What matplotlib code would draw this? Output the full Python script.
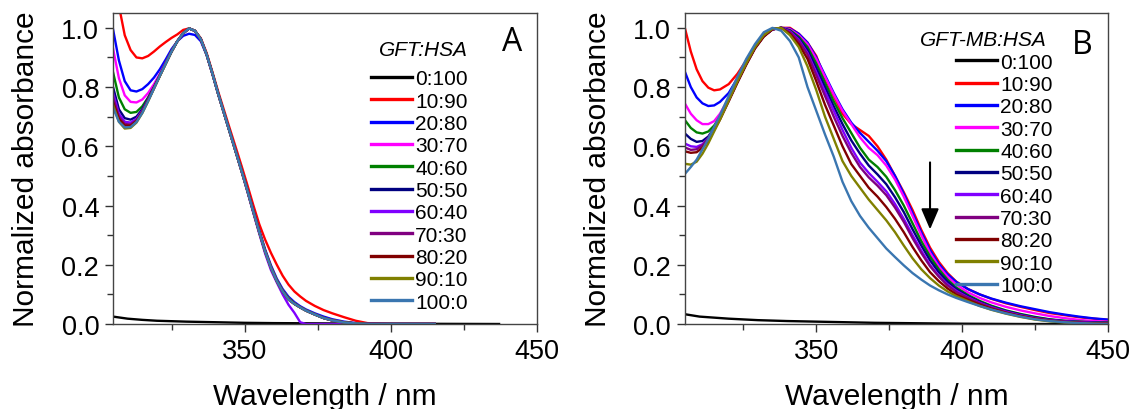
import matplotlib
matplotlib.use('Agg')
import matplotlib.pyplot as plt
from matplotlib.ticker import MultipleLocator

plt.rcParams['font.family'] = ['Liberation Sans', 'DejaVu Sans']

labels = ['0:100', '10:90', '20:80', '30:70', '40:60', '50:50',
          '60:40', '70:30', '80:20', '90:10', '100:0']
colors = ['#000000', '#ff0000', '#0000ff', '#ff00ff', '#008000', '#000080',
          '#8000ff', '#800080', '#800000', '#808000', '#3a76b0']

# ---- panel A: GFT:HSA ----
wl_a = [305, 307, 309, 311, 313, 315, 317, 319, 321, 323, 325, 327, 329,
        331, 333, 335, 337, 339, 341, 343, 345, 347, 349, 351, 353, 355, 357,
        359, 361, 363, 365, 367, 369, 371, 374, 377, 380, 384, 388, 392, 400, 415]
wl_a_black = [305, 310, 315, 320, 330, 340, 350, 360, 380, 400, 437]
a_0_100 = [0.025, 0.018, 0.014, 0.011, 0.008, 0.006, 0.004, 0.003, 0.002, 0.001, 0.0]
a_10_90 = [1.2, 1.075, 0.975, 0.925, 0.9, 0.897, 0.905, 0.92, 0.937, 0.952, 0.966, 0.978, 0.993,
           0.998, 0.99, 0.965, 0.915, 0.85, 0.783, 0.72, 0.657, 0.595, 0.532, 0.467, 0.4, 0.337, 0.285,
           0.24, 0.2, 0.163, 0.133, 0.11, 0.093, 0.078, 0.061, 0.047, 0.036, 0.023, 0.011, 0.003, 0.0, 0.0]
a_20_80 = [0.995, 0.89, 0.82, 0.789, 0.785, 0.793, 0.81, 0.832, 0.86, 0.893, 0.928, 0.955, 0.973,
           0.98, 0.976, 0.955, 0.908, 0.843, 0.775, 0.71, 0.646, 0.582, 0.518, 0.452, 0.383, 0.316, 0.252,
           0.198, 0.153, 0.118, 0.092, 0.074, 0.06, 0.049, 0.036, 0.025, 0.016, 0.008, 0.003, 0.001, 0.0, 0.0]
a_30_70 = [0.93, 0.83, 0.772, 0.75, 0.748, 0.758, 0.78, 0.81, 0.845, 0.882, 0.92, 0.955, 0.982,
           0.998, 0.99, 0.962, 0.91, 0.845, 0.777, 0.712, 0.647, 0.582, 0.517, 0.45, 0.38, 0.312, 0.248,
           0.193, 0.148, 0.113, 0.087, 0.07, 0.057, 0.046, 0.033, 0.021, 0.013, 0.006, 0.002, 0.0, 0.0, 0.0]
a_40_60 = [0.85, 0.765, 0.725, 0.713, 0.716, 0.735, 0.765, 0.8, 0.84, 0.88, 0.92, 0.955, 0.982,
           0.998, 0.99, 0.962, 0.91, 0.846, 0.777, 0.712, 0.647, 0.582, 0.517, 0.45, 0.38, 0.312, 0.248,
           0.193, 0.148, 0.113, 0.087, 0.07, 0.057, 0.046, 0.033, 0.021, 0.013, 0.006, 0.002, 0.0, 0.0, 0.0]
a_50_50 = [0.8, 0.725, 0.695, 0.69, 0.7, 0.725, 0.762, 0.8, 0.84, 0.88, 0.92, 0.955, 0.982,
           0.998, 0.99, 0.962, 0.91, 0.845, 0.775, 0.71, 0.645, 0.58, 0.515, 0.448, 0.378, 0.31, 0.245,
           0.19, 0.145, 0.11, 0.083, 0.068, 0.056, 0.045, 0.032, 0.02, 0.012, 0.005, 0.002, 0.0, 0.0, 0.0]
a_60_40 = [0.78, 0.71, 0.683, 0.68, 0.693, 0.72, 0.758, 0.798, 0.84, 0.88, 0.92, 0.955, 0.982,
           0.998, 0.99, 0.962, 0.91, 0.845, 0.775, 0.71, 0.645, 0.58, 0.513, 0.445, 0.374, 0.305, 0.238,
           0.182, 0.14, 0.1, 0.065, 0.038, 0.006, 0.0, 0.0, 0.0, 0.0, 0.0, 0.0, 0.0, 0.0, 0.0]
a_70_30 = [0.765, 0.7, 0.675, 0.674, 0.688, 0.717, 0.756, 0.797, 0.839, 0.88, 0.92, 0.955, 0.982,
           0.998, 0.99, 0.962, 0.91, 0.845, 0.775, 0.71, 0.645, 0.58, 0.515, 0.448, 0.378, 0.31, 0.245,
           0.19, 0.145, 0.11, 0.083, 0.068, 0.056, 0.045, 0.032, 0.02, 0.012, 0.005, 0.002, 0.0, 0.0, 0.0]
a_80_20 = [0.75, 0.693, 0.67, 0.67, 0.685, 0.715, 0.755, 0.796, 0.838, 0.879, 0.92, 0.955, 0.982,
           0.998, 0.99, 0.962, 0.91, 0.845, 0.775, 0.71, 0.645, 0.58, 0.515, 0.448, 0.378, 0.31, 0.245,
           0.19, 0.145, 0.11, 0.083, 0.068, 0.056, 0.045, 0.032, 0.02, 0.012, 0.005, 0.002, 0.0, 0.0, 0.0]
a_90_10 = [0.74, 0.683, 0.66, 0.662, 0.68, 0.712, 0.752, 0.795, 0.837, 0.878, 0.919, 0.955, 0.982,
           0.998, 0.99, 0.962, 0.91, 0.845, 0.775, 0.71, 0.645, 0.58, 0.515, 0.448, 0.378, 0.31, 0.245,
           0.19, 0.145, 0.11, 0.083, 0.068, 0.056, 0.045, 0.032, 0.02, 0.012, 0.005, 0.002, 0.0, 0.0, 0.0]
a_100_0 = [0.73, 0.683, 0.664, 0.665, 0.682, 0.713, 0.753, 0.795, 0.838, 0.879, 0.92, 0.955, 0.982,
           0.998, 0.99, 0.962, 0.91, 0.845, 0.775, 0.71, 0.645, 0.58, 0.515, 0.448, 0.378, 0.31, 0.245,
           0.19, 0.145, 0.11, 0.083, 0.068, 0.056, 0.045, 0.032, 0.02, 0.012, 0.005, 0.002, 0.0, 0.0, 0.0]

# ---- panel B: GFT-MB:HSA ----
wl_b = [305, 307, 309, 311, 313, 315, 317, 320, 323, 326, 329, 332, 335, 338, 341, 344, 347,
        350, 353, 356, 359, 362, 365, 368, 371, 374, 377, 380, 383, 386, 389, 392, 395, 398,
        402, 406, 410, 415, 420, 425, 430, 435, 440, 445, 450]
wl_b_black = [305, 310, 320, 330, 340, 350, 360, 370, 380, 400, 420, 450]
b_0_100 = [0.033, 0.025, 0.018, 0.013, 0.01, 0.008, 0.006, 0.004, 0.003, 0.001, 0.0, 0.0]
b_10_90 = [0.998, 0.92, 0.86, 0.82, 0.798, 0.789, 0.792, 0.81, 0.845, 0.89, 0.938, 0.975, 0.995,
           1.0, 1.0, 0.98, 0.95, 0.905, 0.83, 0.77, 0.71, 0.675, 0.655, 0.635, 0.6, 0.555, 0.5,
           0.445, 0.385, 0.318, 0.258, 0.21, 0.172, 0.143, 0.118, 0.1, 0.085, 0.07, 0.058, 0.047,
           0.037, 0.03, 0.023, 0.018, 0.014]
b_20_80 = [0.851, 0.8, 0.765, 0.745, 0.736, 0.738, 0.75, 0.78, 0.83, 0.885, 0.935, 0.973, 0.995,
           1.0, 0.997, 0.98, 0.95, 0.9, 0.84, 0.78, 0.725, 0.68, 0.645, 0.615, 0.585, 0.55, 0.5,
           0.44, 0.375, 0.31, 0.25, 0.203, 0.168, 0.142, 0.118, 0.1, 0.086, 0.072, 0.06, 0.05,
           0.04, 0.032, 0.025, 0.019, 0.015]
b_30_70 = [0.744, 0.71, 0.688, 0.675, 0.675, 0.685, 0.71, 0.762, 0.822, 0.88, 0.933, 0.973, 0.995,
           1.0, 0.995, 0.975, 0.945, 0.895, 0.835, 0.775, 0.72, 0.675, 0.63, 0.595, 0.57, 0.535, 0.488,
           0.43, 0.365, 0.3, 0.24, 0.195, 0.16, 0.133, 0.107, 0.088, 0.073, 0.058, 0.046, 0.036,
           0.027, 0.02, 0.014, 0.01, 0.008]
b_40_60 = [0.688, 0.662, 0.647, 0.643, 0.65, 0.67, 0.7, 0.758, 0.82, 0.88, 0.933, 0.973, 0.995,
           1.0, 0.992, 0.97, 0.935, 0.88, 0.815, 0.752, 0.695, 0.645, 0.595, 0.555, 0.53, 0.497, 0.452,
           0.4, 0.34, 0.28, 0.228, 0.185, 0.15, 0.123, 0.098, 0.078, 0.062, 0.046, 0.034, 0.024,
           0.016, 0.011, 0.008, 0.006, 0.005]
b_50_50 = [0.643, 0.625, 0.615, 0.618, 0.633, 0.662, 0.697, 0.757, 0.82, 0.88, 0.933, 0.973, 0.995,
           1.0, 0.99, 0.965, 0.925, 0.865, 0.8, 0.735, 0.675, 0.62, 0.575, 0.535, 0.505, 0.472, 0.428,
           0.378, 0.32, 0.265, 0.215, 0.175, 0.143, 0.118, 0.094, 0.075, 0.059, 0.044, 0.032, 0.022,
           0.015, 0.01, 0.007, 0.005, 0.004]
b_60_40 = [0.609, 0.6, 0.598, 0.607, 0.628, 0.66, 0.695, 0.755, 0.818, 0.878, 0.932, 0.972, 0.995,
           1.0, 0.988, 0.96, 0.915, 0.85, 0.785, 0.72, 0.655, 0.595, 0.545, 0.51, 0.48, 0.448, 0.405,
           0.355, 0.3, 0.248, 0.2, 0.163, 0.134, 0.112, 0.09, 0.072, 0.057, 0.042, 0.03, 0.02,
           0.013, 0.009, 0.006, 0.004, 0.003]
b_70_30 = [0.596, 0.588, 0.59, 0.603, 0.627, 0.66, 0.695, 0.755, 0.818, 0.878, 0.932, 0.972, 0.995,
           1.0, 0.985, 0.955, 0.91, 0.84, 0.77, 0.7, 0.635, 0.578, 0.53, 0.495, 0.467, 0.435, 0.393,
           0.345, 0.29, 0.24, 0.195, 0.16, 0.13, 0.108, 0.088, 0.07, 0.055, 0.04, 0.028, 0.019,
           0.012, 0.008, 0.005, 0.003, 0.002]
b_80_20 = [0.583, 0.578, 0.58, 0.595, 0.62, 0.655, 0.69, 0.752, 0.815, 0.875, 0.93, 0.97, 0.995,
           1.0, 0.98, 0.945, 0.895, 0.82, 0.74, 0.67, 0.6, 0.54, 0.5, 0.46, 0.43, 0.395, 0.355,
           0.31, 0.26, 0.215, 0.175, 0.145, 0.12, 0.1, 0.082, 0.066, 0.052, 0.038, 0.027, 0.018,
           0.011, 0.007, 0.004, 0.002, 0.001]
b_90_10 = [0.541, 0.538, 0.548, 0.575, 0.61, 0.65, 0.69, 0.755, 0.82, 0.88, 0.935, 0.975, 0.997,
           1.0, 0.975, 0.935, 0.87, 0.79, 0.7, 0.625, 0.55, 0.5, 0.46, 0.42, 0.385, 0.35, 0.31,
           0.265, 0.222, 0.185, 0.155, 0.13, 0.11, 0.094, 0.077, 0.061, 0.048, 0.035, 0.024, 0.015,
           0.009, 0.005, 0.003, 0.001, 0.0]
b_100_0 = [0.507, 0.53, 0.555, 0.59, 0.625, 0.665, 0.705, 0.77, 0.835, 0.895, 0.945, 0.985, 1.0,
           0.99, 0.955, 0.9, 0.8, 0.72, 0.64, 0.565, 0.48, 0.415, 0.365, 0.325, 0.29, 0.255, 0.226,
           0.198, 0.172, 0.15, 0.13, 0.114, 0.1, 0.088, 0.074, 0.061, 0.049, 0.036, 0.025, 0.016,
           0.01, 0.006, 0.003, 0.001, 0.0]

series_a = [a_10_90, a_20_80, a_30_70, a_40_60, a_50_50, a_60_40,
            a_70_30, a_80_20, a_90_10, a_100_0]
series_b = [b_10_90, b_20_80, b_30_70, b_40_60, b_50_50, b_60_40,
            b_70_30, b_80_20, b_90_10, b_100_0]

fig = plt.figure(figsize=(11.35, 4.10), dpi=100)
ax_a = fig.add_axes([0.0996, 0.2073, 0.3736, 0.7585])
ax_b = fig.add_axes([0.6035, 0.2073, 0.3727, 0.7585])

# (axes, black x, black y, x, series, title, title pos, tag, tag pos, legend anchor)
panels = [
    (ax_a, wl_a_black, a_0_100, wl_a, series_a, 'GFT:HSA', (0.837, 0.884),
     'A', (0.941, 0.907), (0.837, 0.819)),
    (ax_b, wl_b_black, b_0_100, wl_b, series_b, 'GFT-MB:HSA', (0.856, 0.916),
     'B', (0.939, 0.90), (0.87, 0.873)),
]

for ax, wlk, blk, wl, series, title, title_pos, tag, tag_pos, leg_pos in panels:
    ax.plot(wlk, blk, color=colors[0], lw=1.7, label=labels[0])
    for vals, lab, col in zip(series, labels[1:], colors[1:]):
        ax.plot(wl, vals, color=col, lw=1.7, label=lab)

    ax.set_xlim(305, 450)
    ax.set_ylim(0, 1.05)
    ax.xaxis.set_major_locator(MultipleLocator(50))
    ax.xaxis.set_minor_locator(MultipleLocator(25))
    ax.yaxis.set_major_locator(MultipleLocator(0.2))
    ax.yaxis.set_minor_locator(MultipleLocator(0.1))
    ax.set_xticks([350, 400, 450])
    ax.yaxis.set_major_formatter(plt.FormatStrFormatter('%.1f'))
    ax.tick_params(axis='both', which='major', direction='out', length=6, width=1,
                   labelsize=19.5, pad=4, colors='#333333', labelcolor='black')
    ax.tick_params(axis='both', which='minor', direction='out', length=4, width=1,
                   colors='#333333')
    for sp in ax.spines.values():
        sp.set_color('#444444')
        sp.set_linewidth(1)

    ax.set_xlabel('Wavelength / nm', fontsize=21.5, labelpad=13)
    ax.set_ylabel('Normalized absorbance', fontsize=21.5, labelpad=15)

    leg = ax.legend(loc='upper right', bbox_to_anchor=leg_pos, frameon=False,
                    fontsize=15, handlelength=2.0, handletextpad=0.15,
                    labelspacing=0.16, borderpad=0, borderaxespad=0)
    for line in leg.get_lines():
        line.set_linewidth(2.4)

    ax.text(title_pos[0], title_pos[1], title, transform=ax.transAxes, fontsize=15,
            family='Liberation Sans', style='italic', ha='right', va='center')
    ax.text(tag_pos[0], tag_pos[1], tag, transform=ax.transAxes, fontsize=23,
            family='Open Sans', ha='center', va='center')

ax_b.annotate('', xy=(389, 0.31), xytext=(389, 0.555),
              arrowprops=dict(arrowstyle='-|>,head_length=0.7,head_width=0.3',
                              color='black', lw=1.5, mutation_scale=18))

fig.savefig('out.png', dpi=100)
